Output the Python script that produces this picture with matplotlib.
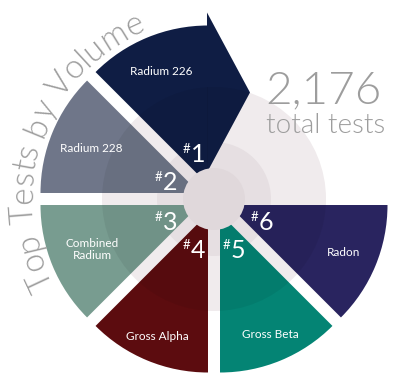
import matplotlib
matplotlib.use('Agg')
import matplotlib.pyplot as plt
from matplotlib.patches import Wedge, Circle, Polygon
from matplotlib.font_manager import FontProperties
import numpy as np

# ---------------- data ----------------
categories = ['Radium 226', 'Radium 228', 'Combined\nRadium', 'Gross Alpha', 'Gross Beta', 'Radon']
ranks = [1, 2, 3, 4, 5, 6]
total_tests = 2176
title = 'Top Tests by Volume'
subtitle = 'total tests'

# ---------------- style ----------------
colors = ['#0f1d44', '#6f7689', '#789c90', '#5c0c0f', '#048474', '#29245f']
label_r = [138, 133, 132, 149, 147, 140]
FONT = 'Lato'
GRAY = '#9d9d9d'

W, H = 400, 382
fig = plt.figure(figsize=(W / 100, H / 100), dpi=100)
ax = fig.add_axes([0, 0, 1, 1])
ax.set_xlim(0, W)
ax.set_ylim(0, H)
ax.set_aspect('equal')
ax.axis('off')

cx, cy = 214, 183
R = 159
explode = 15.7
step = 45
start = 90

ax.add_patch(Circle((cx, cy), 112, facecolor='#f0ebed', edgecolor='none', zorder=0))
ax.add_patch(Circle((cx, cy), 57, facecolor='#e6dfe2', edgecolor='none', zorder=0.5))

for i, (cat, col) in enumerate(zip(categories, colors)):
    t1 = start + step * i
    t2 = t1 + step
    mid = np.radians((t1 + t2) / 2)
    ox, oy = cx + explode * np.cos(mid), cy + explode * np.sin(mid)
    wd = Wedge((ox, oy), R, t1, t2, facecolor=col, edgecolor='none', zorder=2)
    ax.add_patch(wd)
    shapes = [wd]
    if i == 0:
        a = np.radians(t1)
        u = np.array([np.cos(a), np.sin(a)])
        n = np.array([np.sin(a), -np.cos(a)])
        o = np.array([ox, oy]) - 1.0 * n
        tri = Polygon([o + 12 * u, o + 92 * u + 43 * n, o + 172 * u],
                      closed=True, facecolor=col, edgecolor='none', zorder=2)
        ax.add_patch(tri)
        shapes.append(tri)
    for s in shapes:
        sh = Circle((cx, cy), 112, facecolor='black', edgecolor='none', alpha=0.06, zorder=3)
        ax.add_patch(sh)
        sh.set_clip_path(s)
    # category label
    lx, ly = cx + label_r[i] * np.cos(mid), cy + label_r[i] * np.sin(mid)
    ax.text(lx, ly, cat, color='white', fontsize=8.5, family=FONT,
            ha='center', va='center', linespacing=1.15, zorder=6)
    # rank label
    gx, gy = cx + 52 * np.cos(mid), cy + 52 * np.sin(mid) - 3
    ax.text(gx - 3, gy - 8, str(ranks[i]), color='white', fontsize=18, family=FONT,
            fontweight='normal', ha='left', va='baseline', zorder=6)
    ax.text(gx - 4, gy + 1, '#', color='white', fontsize=9.5, family=FONT,
            ha='right', va='baseline', zorder=6)

ax.add_patch(Circle((cx, cy), 31, facecolor='#e0d8db', edgecolor='none', zorder=5))

# total
ax.text(324, 279, f'{total_tests:,}', color=GRAY, fontsize=33, family=FONT,
        fontweight=300, ha='center', va='baseline', zorder=6)
ax.text(326, 249, subtitle, color=GRAY, fontsize=20, family=FONT,
        fontweight=300, ha='center', va='baseline', zorder=6)

# curved title
renderer = fig.canvas.get_renderer()
fp = FontProperties(family=FONT, size=24, weight=300)
base = renderer.get_text_width_height_descent('||', fp, ismath=False)[0]
widths = [renderer.get_text_width_height_descent('|' + c + '|', fp, ismath=False)[0] - base
          for c in title]
total_w = sum(widths)
r_t = 182
mid_ang = np.radians(160)
theta0 = mid_ang + total_w / r_t / 2
x = 0.0
for c, w in zip(title, widths):
    th = theta0 - (x + w / 2) / r_t
    px, py = cx + r_t * np.cos(th), cy + r_t * np.sin(th)
    ax.text(px, py, c, fontproperties=fp, color=GRAY, rotation=np.degrees(th) - 90,
            rotation_mode='anchor', ha='center', va='baseline', zorder=6)
    x += w

fig.savefig('out.png', dpi=100, facecolor='white')
